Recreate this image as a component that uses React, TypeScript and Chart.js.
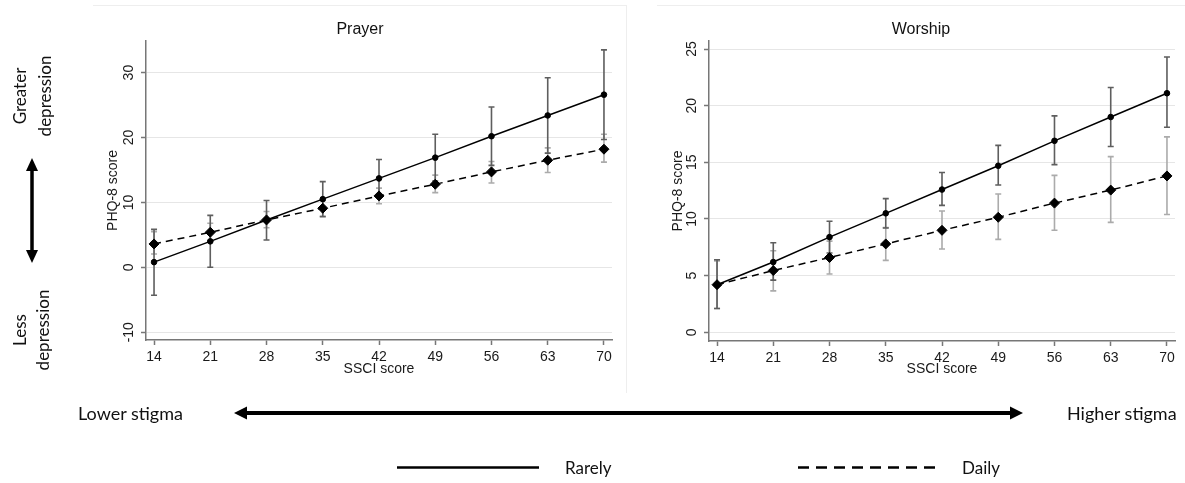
import React, { useEffect, useRef } from "react";
import { Chart, registerables } from "chart.js";

Chart.register(...registerables);

// ---------- data ----------
const ssciScores = [14, 21, 28, 35, 42, 49, 56, 63, 70];

const prayerRarely = [0.8, 4.0, 7.3, 10.5, 13.7, 16.9, 20.2, 23.4, 26.6];
const prayerRarelyLow = [-4.3, 0.0, 4.2, 7.8, 10.8, 13.3, 15.7, 17.6, 19.7];
const prayerRarelyHigh = [5.85, 8.0, 10.3, 13.2, 16.6, 20.5, 24.7, 29.2, 33.5];
const prayerDaily = [3.6, 5.4, 7.3, 9.1, 11.0, 12.8, 14.7, 16.5, 18.2];
const prayerDailyLow = [2.05, 4.0, 6.1, 7.9, 9.8, 11.5, 13.0, 14.6, 16.2];
const prayerDailyHigh = [5.5, 6.8, 8.6, 10.3, 12.2, 14.2, 16.3, 18.4, 20.5];
const prayerYTicks = [-10, 0, 10, 20, 30];

const worshipRarely = [4.2, 6.2, 8.4, 10.5, 12.6, 14.7, 16.9, 19.0, 21.1];
const worshipRarelyLow = [2.1, 4.6, 7.0, 9.2, 11.2, 13.0, 14.8, 16.4, 18.1];
const worshipRarelyHigh = [6.4, 7.9, 9.8, 11.8, 14.1, 16.5, 19.1, 21.6, 24.3];
const worshipDaily = [4.2, 5.45, 6.6, 7.8, 9.0, 10.15, 11.4, 12.55, 13.8];
const worshipDailyLow = [2.1, 3.65, 5.15, 6.35, 7.35, 8.2, 9.0, 9.7, 10.4];
const worshipDailyHigh = [6.3, 7.2, 8.05, 9.25, 10.7, 12.2, 13.85, 15.5, 17.25];
const worshipYTicks = [0, 5, 10, 15, 20, 25];

const seriesNames = ["Rarely", "Daily"];

const CHART_FONT = '"Liberation Sans", Arial, Helvetica, sans-serif';
const NOTE_FONT = 'Lato, "Open Sans", sans-serif';
const TICK_SIZE = 14;

type PanelProps = {
  title: string;
  left: number;
  top: number;
  width: number;
  height: number;
  area: { left: number; right: number; top: number; bottom: number };
  yMin: number;
  yMax: number;
  yTicks: number[];
  rarely: number[];
  rarelyLow: number[];
  rarelyHigh: number[];
  daily: number[];
  dailyLow: number[];
  dailyHigh: number[];
  rightBorder: boolean;
  yTitleX: number;
};

function Panel(p: PanelProps) {
  const ref = useRef<HTMLCanvasElement | null>(null);

  useEffect(() => {
    const canvas = ref.current;
    if (!canvas) return;

    const errBars = [
      { low: p.rarelyLow, high: p.rarelyHigh, color: "#5e5e5e" },
      { low: p.dailyLow, high: p.dailyHigh, color: "#ababab" },
    ];

    const decor = {
      id: "decor",
      beforeDatasetsDraw(chart: any) {
        const ctx = chart.ctx;
        const xs = chart.scales.x;
        const ys = chart.scales.y;
        [1, 0].forEach((k) => {
          const eb = errBars[k];
          ctx.save();
          ctx.strokeStyle = eb.color;
          ctx.lineWidth = 1.6;
          ssciScores.forEach((s, i) => {
            const x = xs.getPixelForValue(s);
            const yl = ys.getPixelForValue(eb.low[i]);
            const yh = ys.getPixelForValue(eb.high[i]);
            ctx.beginPath();
            ctx.moveTo(x, yl);
            ctx.lineTo(x, yh);
            ctx.moveTo(x - 3, yl);
            ctx.lineTo(x + 3, yl);
            ctx.moveTo(x - 3, yh);
            ctx.lineTo(x + 3, yh);
            ctx.stroke();
          });
          ctx.restore();
        });
      },
      afterDraw(chart: any) {
        const ctx = chart.ctx;
        const ys = chart.scales.y;
        const left = chart.chartArea.left;
        ctx.save();
        ctx.font = `${TICK_SIZE}px ${CHART_FONT}`;
        ctx.fillStyle = "#1a1a1a";
        ctx.textAlign = "center";
        ctx.textBaseline = "middle";
        p.yTicks.forEach((v) => {
          const y = ys.getPixelForValue(v);
          ctx.save();
          ctx.translate(left - 17, y);
          ctx.rotate(-Math.PI / 2);
          ctx.fillText(String(v), 0, 0);
          ctx.restore();
        });
        ctx.font = `16px ${CHART_FONT}`;
        ctx.fillStyle = "#111";
        ctx.fillText(p.title, chart.width / 2, 25);
        ctx.strokeStyle = "#eeeeee";
        ctx.lineWidth = 1;
        ctx.beginPath();
        ctx.moveTo(0, 0.5);
        ctx.lineTo(chart.width, 0.5);
        if (p.rightBorder) {
          ctx.moveTo(chart.width - 0.5, 0);
          ctx.lineTo(chart.width - 0.5, chart.height);
        }
        ctx.stroke();
        ctx.restore();
      },
    };

    const toPts = (arr: number[]) => ssciScores.map((s, i) => ({ x: s, y: arr[i] }));

    const chart = new Chart(canvas, {
      type: "line",
      data: {
        datasets: [
          {
            label: seriesNames[0],
            data: toPts(p.rarely),
            borderColor: "#000",
            backgroundColor: "#000",
            borderWidth: 1.5,
            pointStyle: "circle",
            pointRadius: 2.8,
            pointBorderWidth: 1,
            pointBackgroundColor: "#000",
            pointBorderColor: "#000",
            tension: 0,
          },
          {
            label: seriesNames[1],
            data: toPts(p.daily),
            borderColor: "#000",
            backgroundColor: "#000",
            borderWidth: 1.5,
            borderDash: [7, 5],
            pointStyle: "rectRot",
            pointRadius: 5,
            pointBorderWidth: 1,
            pointBackgroundColor: "#000",
            pointBorderColor: "#000",
            tension: 0,
          },
        ],
      },
      options: {
        responsive: false,
        animation: false,
        devicePixelRatio: 1,
        layout: {
          padding: {
            left: 0,
            top: p.area.top,
            right: p.width - p.area.right,
            bottom: 0,
          },
        },
        plugins: {
          legend: { display: false },
          tooltip: { enabled: false },
          title: { display: false },
        },
        scales: {
          x: {
            type: "linear",
            min: 13,
            max: 71,
            afterBuildTicks: (scale: any) => {
              scale.ticks = ssciScores.map((v) => ({ value: v }));
            },
            afterFit: (scale: any) => {
              scale.height = p.height - p.area.bottom;
            },
            ticks: {
              font: { family: CHART_FONT, size: TICK_SIZE },
              color: "#1a1a1a",
              padding: 3.5,
              maxRotation: 0,
              minRotation: 0,
              autoSkip: false,
            },
            grid: {
              drawOnChartArea: false,
              drawTicks: true,
              tickLength: 5,
              tickColor: "#777",
              tickWidth: 1.5,
            },
            border: { color: "#777", width: 1.5 },
            title: {
              display: true,
              text: "SSCI score",
              font: { family: CHART_FONT, size: TICK_SIZE },
              color: "#1a1a1a",
              padding: { top: 0, bottom: 15.6 },
            },
          },
          y: {
            type: "linear",
            min: p.yMin,
            max: p.yMax,
            afterBuildTicks: (scale: any) => {
              scale.ticks = p.yTicks.map((v) => ({ value: v }));
            },
            afterFit: (scale: any) => {
              scale.width = p.area.left;
            },
            ticks: { display: false },
            grid: {
              color: "#e6e6e6",
              lineWidth: 1,
              drawTicks: true,
              tickLength: 5,
              tickColor: "#777",
              tickWidth: 1.5,
            },
            border: { color: "#777", width: 1.5 },
            title: {
              display: true,
              text: "PHQ-8 score",
              font: { family: CHART_FONT, size: TICK_SIZE },
              color: "#1a1a1a",
              padding: { top: p.yTitleX - 8.4, bottom: 0 },
            },
          },
        },
      },
      plugins: [decor],
    } as any);

    return () => chart.destroy();
  }, []);

  return (
    <canvas
      ref={ref}
      width={p.width}
      height={p.height}
      style={{ position: "absolute", left: p.left, top: p.top, width: p.width, height: p.height }}
    />
  );
}

const noteStyle: React.CSSProperties = {
  position: "absolute",
  fontFamily: NOTE_FONT,
  fontSize: 17,
  color: "#111",
  whiteSpace: "nowrap",
  lineHeight: "20px",
};

export default function App() {
  useEffect(() => {
    document.body.style.margin = "0";
  }, []);

  return (
    <div style={{ position: "fixed", left: 0, top: 0, width: 1185, height: 483, background: "#fff", overflow: "hidden" }}>
      <Panel
        title="Prayer"
        left={93}
        top={5}
        width={534}
        height={388}
        area={{ left: 53, right: 519, top: 36, bottom: 335 }}
        yMin={-11.2}
        yMax={34.87}
        yTicks={prayerYTicks}
        rarely={prayerRarely}
        rarelyLow={prayerRarelyLow}
        rarelyHigh={prayerRarelyHigh}
        daily={prayerDaily}
        dailyLow={prayerDailyLow}
        dailyHigh={prayerDailyHigh}
        rightBorder={true}
        yTitleX={20}
      />
      <Panel
        title="Worship"
        left={657}
        top={5}
        width={528}
        height={388}
        area={{ left: 52, right: 518, top: 36, bottom: 336 }}
        yMin={-0.77}
        yMax={25.71}
        yTicks={worshipYTicks}
        rarely={worshipRarely}
        rarelyLow={worshipRarelyLow}
        rarelyHigh={worshipRarelyHigh}
        daily={worshipDaily}
        dailyLow={worshipDailyLow}
        dailyHigh={worshipDailyHigh}
        rightBorder={false}
        yTitleX={21}
      />

      <svg width={1185} height={483} style={{ position: "absolute", left: 0, top: 0, pointerEvents: "none" }}>
        <line x1={32} y1={168} x2={32} y2={253} stroke="#000" strokeWidth={3.5} />
        <polygon points="32,158 26,171 38,171" fill="#000" />
        <polygon points="32,263 26,250 38,250" fill="#000" />
        <line x1={244} y1={413} x2={1013} y2={413} stroke="#000" strokeWidth={4} />
        <polygon points="234,413 247,406.5 247,419.5" fill="#000" />
        <polygon points="1023,413 1010,406.5 1010,419.5" fill="#000" />
        <line x1={397} y1={467.5} x2={539} y2={467.5} stroke="#000" strokeWidth={2.5} />
        <line x1={798} y1={467.5} x2={940} y2={467.5} stroke="#000" strokeWidth={2.5} strokeDasharray="11 7" />
      </svg>

      <div
        style={{
          ...noteStyle,
          left: 32,
          top: 96,
          textAlign: "center",
          lineHeight: "25px",
          transform: "translate(-50%, -50%) rotate(-90deg)",
        }}
      >
        Greater
        <br />
        depression
      </div>
      <div
        style={{
          ...noteStyle,
          left: 31,
          top: 330,
          textAlign: "center",
          lineHeight: "23px",
          transform: "translate(-50%, -50%) rotate(-90deg)",
        }}
      >
        Less
        <br />
        depression
      </div>

      <div style={{ ...noteStyle, fontSize: 18, left: 78, top: 403 }}>Lower stigma</div>
      <div style={{ ...noteStyle, fontSize: 18, left: 1067, top: 403 }}>Higher stigma</div>
      <div style={{ ...noteStyle, left: 565, top: 458 }}>{seriesNames[0]}</div>
      <div style={{ ...noteStyle, left: 962, top: 458 }}>{seriesNames[1]}</div>
    </div>
  );
}
